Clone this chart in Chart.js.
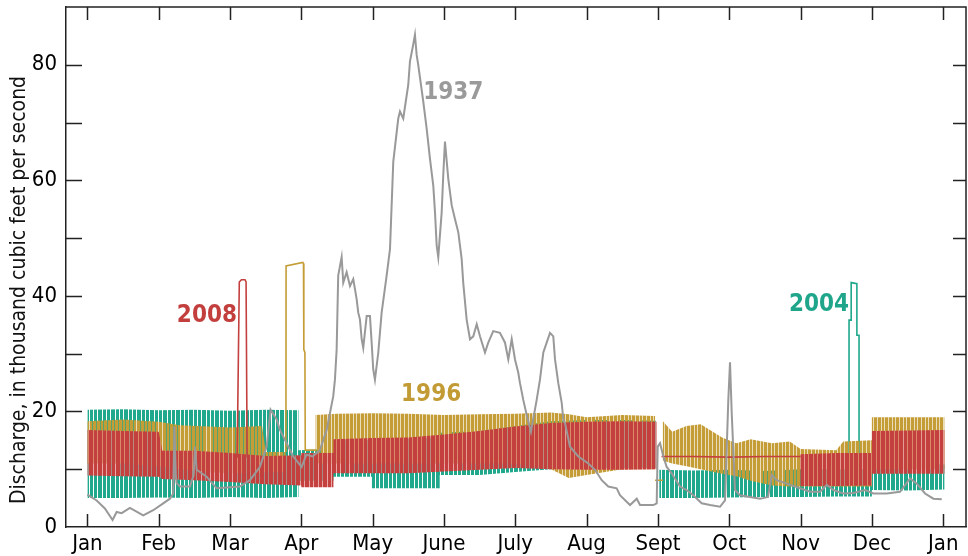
<!DOCTYPE html>
<html><head><meta charset="utf-8">
<script src="https://cdn.jsdelivr.net/npm/chart.js@4/dist/chart.umd.min.js"></script>
<style>html,body{margin:0;padding:0;background:#fff}#wrap{width:968px;height:556px}</style>
</head><body><div id="wrap"><canvas id="c" width="968" height="556"></canvas></div>
<script>
// ---- axis labels ----
const monthLabels = ['Jan','Feb','Mar','Apr','May','June','July','Aug','Sept','Oct','Nov','Dec','Jan'];
const yTicks = [0,10,20,30,40,50,60,70,80];

// ---- 1937 (x in months from Jan 1, discharge in 1000 ft3/s) ----
const x1937 = [0,0.13,0.245,0.353,0.41,0.48,0.596,0.783,0.923,1.063,1.157,1.203,1.22,1.24,1.251,1.297,1.438,1.49,1.508,1.532,1.672,1.812,2.139,2.279,2.419,2.513,2.569,2.654,2.70,2.886,3.004,3.07,3.16,3.26,3.355,3.447,3.471,3.495,3.517,3.565,3.588,3.635,3.682,3.728,3.776,3.798,3.822,3.846,3.868,3.916,3.962,3.986,4.008,4.032,4.079,4.126,4.196,4.243,4.289,4.359,4.383,4.429,4.499,4.523,4.569,4.593,4.617,4.639,4.71,4.757,4.803,4.85,4.874,4.898,4.92,4.968,4.99,5.014,5.06,5.108,5.154,5.201,5.248,5.27,5.318,5.365,5.411,5.459,5.505,5.575,5.621,5.691,5.785,5.856,5.902,5.95,5.996,6.042,6.066,6.112,6.16,6.22,6.30,6.346,6.393,6.44,6.487,6.533,6.557,6.603,6.651,6.673,6.697,6.767,6.884,7.024,7.118,7.212,7.304,7.422,7.468,7.609,7.703,7.749,7.936,7.983,7.997,8.03,8.076,8.123,8.193,8.31,8.404,8.496,8.614,8.731,8.871,8.941,8.987,9.011,9.035,9.081,9.151,9.291,9.432,9.474,9.544,9.596,9.666,9.807,9.993,10.133,10.274,10.368,10.46,10.601,10.741,10.905,11.021,11.209,11.395,11.536,11.63,11.746,11.863,11.98];
const q1937 = [5.6,4.6,3.2,1.2,2.6,2.4,3.3,2.0,2.9,4.1,4.9,5.8,17.4,9.0,7.6,7.0,7.0,9.0,13.9,9.9,8.7,6.7,7.0,8.1,10.4,13.9,20.3,18.6,16.8,12.2,10.4,12.5,12.2,13.3,16.8,22.6,25.5,30.7,43.5,46.7,42.3,44.1,41.7,42.9,39.4,37.1,35.9,32.5,31.0,36.5,36.5,31.9,27.3,25.5,30.2,37.1,43.5,48.1,63.2,70.7,71.9,70.7,76.5,80.6,83.5,85.2,81.7,80.0,73.6,69.0,63.8,59.1,54.5,48.7,46.7,54.5,60.9,66.7,60.3,55.7,53.3,51.0,46.4,42.3,35.9,32.5,33.0,35.1,33.0,30.2,31.9,33.9,33.6,31.9,29.0,32.5,29.0,26.7,24.9,22.0,19.4,16.5,22.0,25.5,30.2,31.9,33.6,33.0,29.0,24.9,21.5,18.6,18.0,13.9,12.2,11.0,9.9,8.1,7.0,6.7,5.5,3.8,4.9,3.8,3.8,4.1,13.9,14.5,12.2,10.4,9.3,7.0,6.4,5.5,4.1,3.8,3.5,4.6,22.0,28.5,19.7,6.4,5.5,5.2,4.9,5.0,5.2,9.0,8.1,7.5,6.7,6.1,6.1,7.3,6.4,5.8,5.9,6.4,5.8,5.8,6.1,8.4,7.5,5.8,4.9,4.8];

// ---- 2008: daily low / high range of the hourly record ----
const x2008  = [0,0.5,1.0,1.05,1.5,2.0,2.5,3.0,3.0,3.45,3.45,4.0,4.5,5.0,5.5,6.0,6.5,7.0,7.5,7.98,7.98,10.0,10.0,10.5,11.0,11.0,12.02];
const lo2008 = [8.9,8.8,8.7,8.3,8.1,7.8,7.4,7.2,6.9,6.9,9.3,9.3,9.3,9.6,9.9,10.2,10.0,9.9,9.9,10.0,12.2,12.2,7.1,7.1,7.2,9.2,9.2];
const hi2008 = [16.8,16.6,16.5,13.2,13.2,12.8,12.3,12.4,12.8,12.8,15.2,15.4,15.5,16.0,16.6,17.4,18.0,18.2,18.3,18.2,12.2,12.2,12.6,12.8,12.8,16.6,16.8];
const xL2008 = [2.10,2.13,2.16,2.21,2.225,2.24,5,8.05,8.5,9.0,9.5,10.0];
const yL2008 = [12,42.4,42.8,42.8,42.4,12,null,12.2,12.2,12.1,12.2,12.2];

// ---- 1996 ----
const x1996  = [0,0.5,1.0,1.3,1.7,2.0,2.45,2.5,2.78,2.78,3.2,3.2,3.5,4.0,4.5,5.0,5.5,6.0,6.5,6.75,7.0,7.5,7.96,7.96,8.07,8.07,8.2,8.4,8.6,8.9,9.1,9.3,9.6,9.85,10.0,10.5,10.6,11.0,11.0,12.02];
const lo1996 = [11,11,10.5,10,9.5,9.3,9.3,9.5,9.5,13,13,11,11,11,11,11,11,11,10,8.5,9.0,10,10,8.1,8.1,11.5,11.0,10.5,10.0,9.2,8.8,8.0,7.2,7.0,7.0,7.0,7.0,7.0,10,10];
const hi1996 = [18.3,18.6,18.2,17.6,17.4,17.2,17.5,13.0,13.0,13,13,19.4,19.6,19.7,19.6,19.4,19.5,19.6,19.8,19.5,19.0,19.4,19.2,8.1,8.1,18.3,16.5,17.5,17.8,15.5,14.5,15.2,14.5,14.8,13.5,13.3,14.8,15.0,19.0,19.0];
const xL1996 = [2.784,2.786,3.02,3.03,3.035,3.05,3.055,3.21,5,7.96,8.07];
const yL1996 = [13,45.2,45.8,45.6,30.7,30.2,13.3,13.3,null,8.1,8.1];

// ---- 2004 ----
const x2004  = [0,0.5,1.0,1.5,2.0,2.5,2.96,2.96,3.45,3.45,3.99,3.99,4.94,4.94,5.5,6.0,6.5,7.0,7.5,7.97,7.97,8.02,8.02,8.5,9.0,9.5,10.0,10.5,11.0,11.0,11.5,12.02];
const lo2004 = [5.0,5.0,5.1,5.0,5.2,5.0,5.2,8.0,8.0,8.7,8.7,6.7,6.7,9.0,9.0,9.5,10.0,10.2,10.2,10.3,7,7,5.0,5.0,5.1,5.2,5.2,5.3,5.3,6.4,6.3,6.5];
const hi2004 = [20.3,20.4,20.2,20.3,20.1,20.3,20.2,13.3,13.5,15.0,15.0,15.0,15.5,16.3,16.6,17.5,18.3,18.5,18.5,18.4,7,7,9.9,9.8,9.9,9.7,10.0,10.0,10.0,11.0,11.0,10.8];
const xL2004 = [10.68,10.68,10.71,10.71,10.79,10.79,10.82,10.82];
const yL2004 = [10,35.8,35.8,42.3,42.1,33.2,33.2,10];

// ---- styling ----
const GRAY = '#999999', RED = '#c4403e', GOLD = '#c59d36', GREEN = '#1fa88b';
function hasFont(name){
  const c = document.createElement('canvas').getContext('2d');
  const s = 'mmmmmmmmmmlli1WQ0123';
  c.font = '40px monospace'; const a = c.measureText(s).width;
  c.font = '40px "' + name + '", monospace'; const b = c.measureText(s).width;
  return a !== b;
}
const FAM = hasFont('Liberation Sans Narrow') ? '"Liberation Sans Narrow"' :
            (hasFont('DejaVu Sans Condensed') ? '"DejaVu Sans Condensed"' : '"Liberation Sans"');

const ctx0 = document.getElementById('c').getContext('2d');
function stripes(color, width, gaps, gapColor){
  const c = document.createElement('canvas'); c.width = width; c.height = 8;
  const g = c.getContext('2d');
  g.fillStyle = color; g.fillRect(0,0,width,8);
  gaps.forEach(i => { g.clearRect(i,0,1,8); if (gapColor){ g.fillStyle = gapColor; g.fillRect(i,0,1,8); } });
  return ctx0.createPattern(c,'repeat');
}
const patGreen = stripes(GREEN, 13, [2,6,11], null);
const patGold  = stripes(GOLD, 11, [1,4,8], 'rgba(197,157,54,0.35)');
const patRed   = stripes(RED, 9, [3,7], 'rgba(225,130,128,0.7)');

const pts = (xs, ys) => xs.map((x,i) => ({x:x, y:ys[i]}));
const line = (label, xs, ys, color, w, order) => ({label, data:pts(xs,ys), borderColor:color, borderWidth:w, pointRadius:0, fill:false, order, tension:0, spanGaps:false});
const bandHi = (label, xs, ys, pat, order) => ({label, data:pts(xs,ys), borderColor:'rgba(0,0,0,0)', borderWidth:0, pointRadius:0, fill:'+1', backgroundColor:pat, order});
const bandLo = (label, xs, ys, order) => ({label, data:pts(xs,ys), borderColor:'rgba(0,0,0,0)', borderWidth:0, pointRadius:0, fill:false, order});

const yearLabels = [
  {text:'1937', x:5.13, y:75.1, color:'#9a9a9a'},
  {text:'2008', x:1.676, y:36.6, color:'#c23f3d'},
  {text:'1996', x:4.82, y:22.9, color:'#c29b35'},
  {text:'2004', x:10.26, y:38.4, color:'#1ea58a'}
];

const framePlugin = {
  id:'frame',
  afterDraw(chart){
    const {ctx, chartArea:a, scales:{x, y}} = chart;
    ctx.save();
    ctx.strokeStyle = '#222'; ctx.lineWidth = 1.5;
    ctx.beginPath(); ctx.moveTo(a.left, a.top); ctx.lineTo(a.right, a.top); ctx.lineTo(a.right, a.bottom); ctx.stroke();
    ctx.lineWidth = 1.5; ctx.beginPath();
    x.ticks.forEach(t => {
      const px = Math.round(x.getPixelForValue(t.value)) + 0.5;
      ctx.moveTo(px, a.bottom); ctx.lineTo(px, a.bottom - 13);
      ctx.moveTo(px, a.top); ctx.lineTo(px, a.top + 13);
    });
    y.ticks.forEach(t => {
      if (t.value <= 0 || t.value >= 90) return;
      const py = Math.round(y.getPixelForValue(t.value)) + 0.5;
      ctx.moveTo(a.left, py); ctx.lineTo(a.left + 16, py);
      ctx.moveTo(a.right, py); ctx.lineTo(a.right - 13, py);
    });
    ctx.stroke();
    // year labels
    ctx.font = 'bold 24px ' + FAM; ctx.textAlign = 'center'; ctx.textBaseline = 'middle';
    yearLabels.forEach(l => { ctx.fillStyle = l.color; ctx.fillText(l.text, x.getPixelForValue(l.x), y.getPixelForValue(l.y)); });
    // y title
    ctx.translate(20, 290); ctx.rotate(-Math.PI/2);
    ctx.font = '21px ' + FAM; ctx.fillStyle = '#111';
    ctx.fillText('Discharge, in thousand cubic feet per second', 0, 0);
    ctx.restore();
  }
};

new Chart(document.getElementById('c'), {
  type:'line',
  data:{ datasets:[
    line('1937', x1937, q1937, GRAY, 2, 0),
    line('2008 line', xL2008, yL2008, RED, 1.6, 1),
    bandHi('2008 high', x2008, hi2008, patRed, 1),
    bandLo('2008 low', x2008, lo2008, 1),
    line('1996 line', xL1996, yL1996, GOLD, 1.6, 2),
    bandHi('1996 high', x1996, hi1996, patGold, 2),
    bandLo('1996 low', x1996, lo1996, 2),
    line('2004 line', xL2004, yL2004, GREEN, 1.6, 3),
    bandHi('2004 high', x2004, hi2004, patGreen, 3),
    bandLo('2004 low', x2004, lo2004, 3)
  ]},
  options:{
    responsive:false, animation:false, events:[],
    layout:{padding:{left:0, top:7, right:2, bottom:0}},
    plugins:{legend:{display:false}, tooltip:{enabled:false}},
    scales:{
      x:{ type:'linear', min:-0.3, max:12.32,
          afterBuildTicks: s => { s.ticks = monthLabels.map((_,i) => ({value:i})); },
          afterFit: s => { s.height = 29; s.paddingLeft = 0; s.paddingRight = 0; },
          ticks:{ callback: v => monthLabels[Math.round(v)], font:{family:FAM, size:22}, color:'#000', padding:4, maxRotation:0, autoSkip:false },
          grid:{display:false, drawTicks:false},
          border:{display:true, color:'#222', width:1.5} },
      y:{ type:'linear', min:0, max:90,
          afterBuildTicks: s => { s.ticks = yTicks.map(v => ({value:v})); },
          afterFit: s => { s.width = 66; s.paddingTop = 0; s.paddingBottom = 0; },
          ticks:{ callback: v => (v % 20 === 0 ? String(v) : ''), font:{family:FAM, size:22}, color:'#000', padding:9 },
          grid:{display:false, drawTicks:false},
          border:{display:true, color:'#222', width:1.5} }
    }
  },
  plugins:[framePlugin]
});
</script>
</body></html>
